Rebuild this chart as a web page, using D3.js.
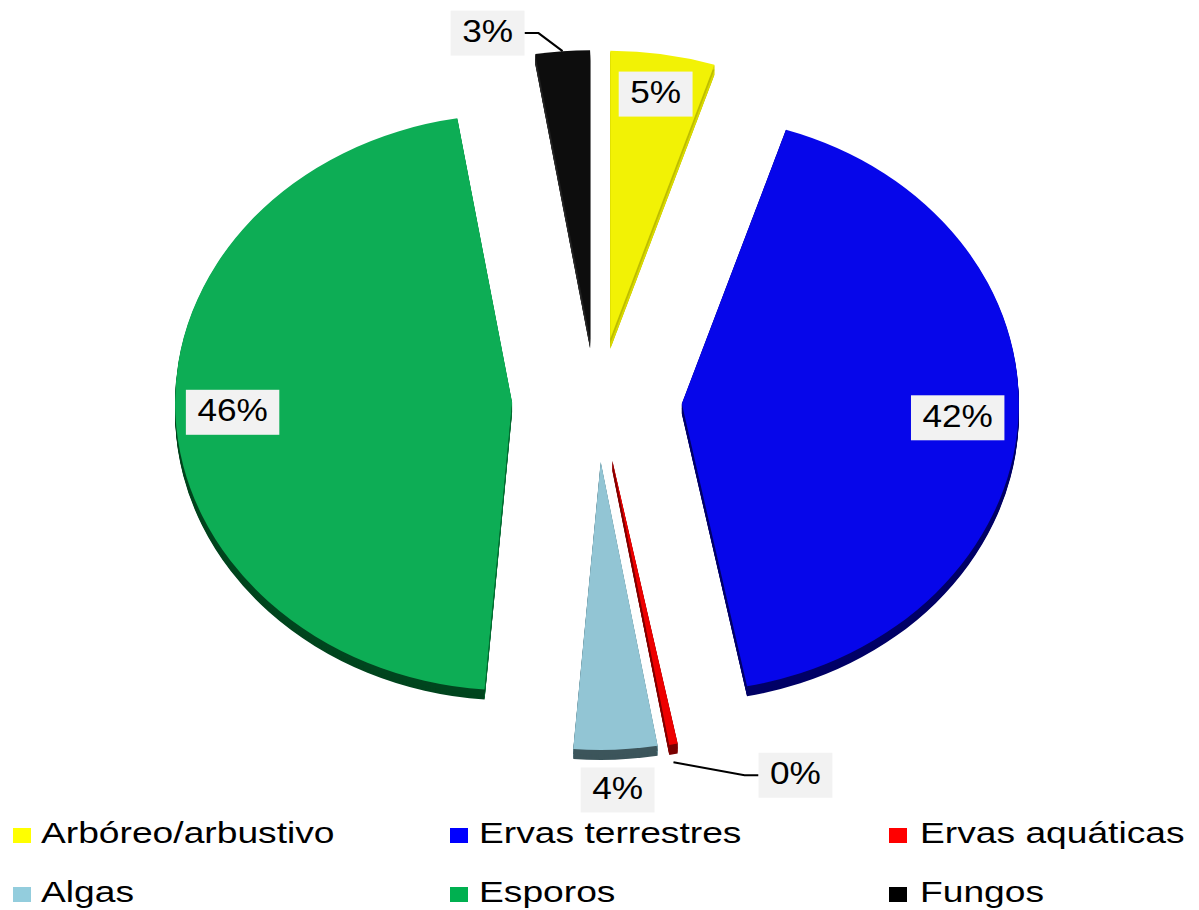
<!DOCTYPE html>
<html>
<head>
<meta charset="utf-8">
<script src="https://cdn.jsdelivr.net/npm/d3@7"></script>
<style>
  body { margin: 0; background: #ffffff; }
  svg { display: block; }
  text { font-family: "Liberation Sans", Arial, Helvetica, sans-serif; }
</style>
</head>
<body>
<svg id="chart" width="1199" height="910"></svg>
<script>
// ---- data ----
const categories = ["Arbóreo/arbustivo", "Ervas terrestres", "Ervas aquáticas", "Algas", "Esporos", "Fungos"];
const percentages = [5.0, 41.9, 0.4, 4.0, 46.1, 2.6];

// ---- colours ----
const faceColors   = ["#F2F205", "#0606EA", "#EE0000", "#92C5D4", "#0DAD55", "#0D0D0D"];
const sideColors   = ["#BDBD00", "#000066", "#7A0000", "#3C555B", "#00451E", "#1E1E1E"];
const wallColors   = ["#DADA00", "#00006E", "#8B0000", "#6F9AA6", "#089A4A", "#2A2A2A"];
const legendColors = ["#FFFF00", "#0000FF", "#FF0000", "#93CDDD", "#00B050", "#000000"];

// ---- layout ----
const W = 1199, H = 910;
const cx = 597, cy = 400;          // pie centre
const rx = 337, ry = 288;          // projected ellipse radii
const k = ry / rx;
const explode = 85, explodeK = 0.73;
const depth = 10;

// label placement along each slice's mid angle (fraction of radius) plus offset for callouts
const labelLayout = [
  { r: 0.86 },
  { r: 0.82 },
  { r: 1.0, dx: 122, dy: 31, leader: true },
  { r: 1.14 },
  { r: 0.83 },
  { r: 1.0, dx: -75, dy: -18, leader: true }
];

const svg = d3.select("#chart");

const pie = d3.pie().sort(null).value(d => d);
const arcs = pie(percentages);
const arc = d3.arc().innerRadius(0).outerRadius(rx);

const slices = arcs.map((p, i) => {
  const mid = (p.startAngle + p.endAngle) / 2;
  const ox = cx + explode * Math.sin(mid);
  const oy = cy - explode * Math.cos(mid) * explodeK;
  return { p, i, mid, ox, oy };
});

const pieG = svg.append("g");

slices.forEach(s => {
  const g = pieG.append("g").attr("transform", `translate(${s.ox},${s.oy})`);
  const local = g.append("g").attr("transform", `scale(1,${k})`);
  const dl = depth / k;

  // extruded body
  for (let t = depth; t >= 1; t--) {
    local.append("path")
      .attr("d", arc(s.p))
      .attr("transform", `translate(0,${t / k})`)
      .attr("fill", sideColors[s.i]);
  }
  // radial walls
  [s.p.startAngle, s.p.endAngle].forEach(a => {
    const ex = rx * Math.sin(a), ey = -rx * Math.cos(a);
    local.append("path")
      .attr("d", `M0,0L${ex},${ey}L${ex},${ey + dl}L0,${dl}Z`)
      .attr("fill", wallColors[s.i]);
  });
  // outer rim band (front part darker)
  local.append("path")
    .attr("d", arc(s.p))
    .attr("transform", `translate(0,${dl * 0.5})`)
    .attr("fill", sideColors[s.i]);
  // top face
  local.append("path")
    .attr("d", arc(s.p))
    .attr("fill", faceColors[s.i]);
});

// ---- data labels ----
const labelG = svg.append("g");
const fs = 32, stretch = 1.1, padX = 11.5, boxH = 45;

slices.forEach(s => {
  const L = labelLayout[s.i];
  const ax = s.ox + rx * L.r * Math.sin(s.mid);
  const ay = s.oy - ry * L.r * Math.cos(s.mid);
  const lx = ax + (L.dx || 0);
  const ly = ay + (L.dy || 0);
  const txt = Math.round(percentages[s.i]) + "%";

  const g = labelG.append("g");
  const rect = g.append("rect").attr("fill", "#F2F2F2");
  const t = g.append("text")
    .attr("font-size", fs)
    .attr("fill", "#000")
    .attr("text-anchor", "middle")
    .attr("transform", `translate(${lx},${ly + 9}) scale(${stretch},1)`)
    .text(txt);
  const tw = t.node().getComputedTextLength() * stretch;
  const bw = tw + 2 * padX;
  rect.attr("x", lx - bw / 2).attr("y", ly - boxH / 2)
      .attr("width", bw).attr("height", boxH);

  if (L.leader) {
    // callout line from the slice rim to the label box
    const rimX = s.ox + rx * Math.sin(s.mid);
    let rimY = s.oy - ry * Math.cos(s.mid);
    if (Math.cos(s.mid) < 0) rimY += depth + 8;
    const side = lx > rimX ? -1 : 1;
    const edgeX = lx + side * bw / 2;
    const kneeX = edgeX + side * 14;
    g.insert("path", "rect")
      .attr("d", `M${rimX},${rimY}L${kneeX},${ly}L${edgeX},${ly}`)
      .attr("fill", "none")
      .attr("stroke", "#000")
      .attr("stroke-width", 2);
  }
});

// ---- legend ----
const legendG = svg.append("g");
const colMarkerX = [13, 450, 889];
const colTextX = [41, 479, 920];
const rowBaseline = [843, 902];
const legFs = 30, legStretch = 1.24;

categories.forEach((c, i) => {
  const col = i % 3, row = Math.floor(i / 3);
  legendG.append("rect")
    .attr("x", colMarkerX[col]).attr("y", rowBaseline[row] - 15)
    .attr("width", 18).attr("height", 15)
    .attr("fill", legendColors[i]);
  legendG.append("text")
    .attr("font-size", legFs)
    .attr("fill", "#000")
    .attr("transform", `translate(${colTextX[col]},${rowBaseline[row]}) scale(${legStretch},1)`)
    .text(c);
});
</script>
</body>
</html>
